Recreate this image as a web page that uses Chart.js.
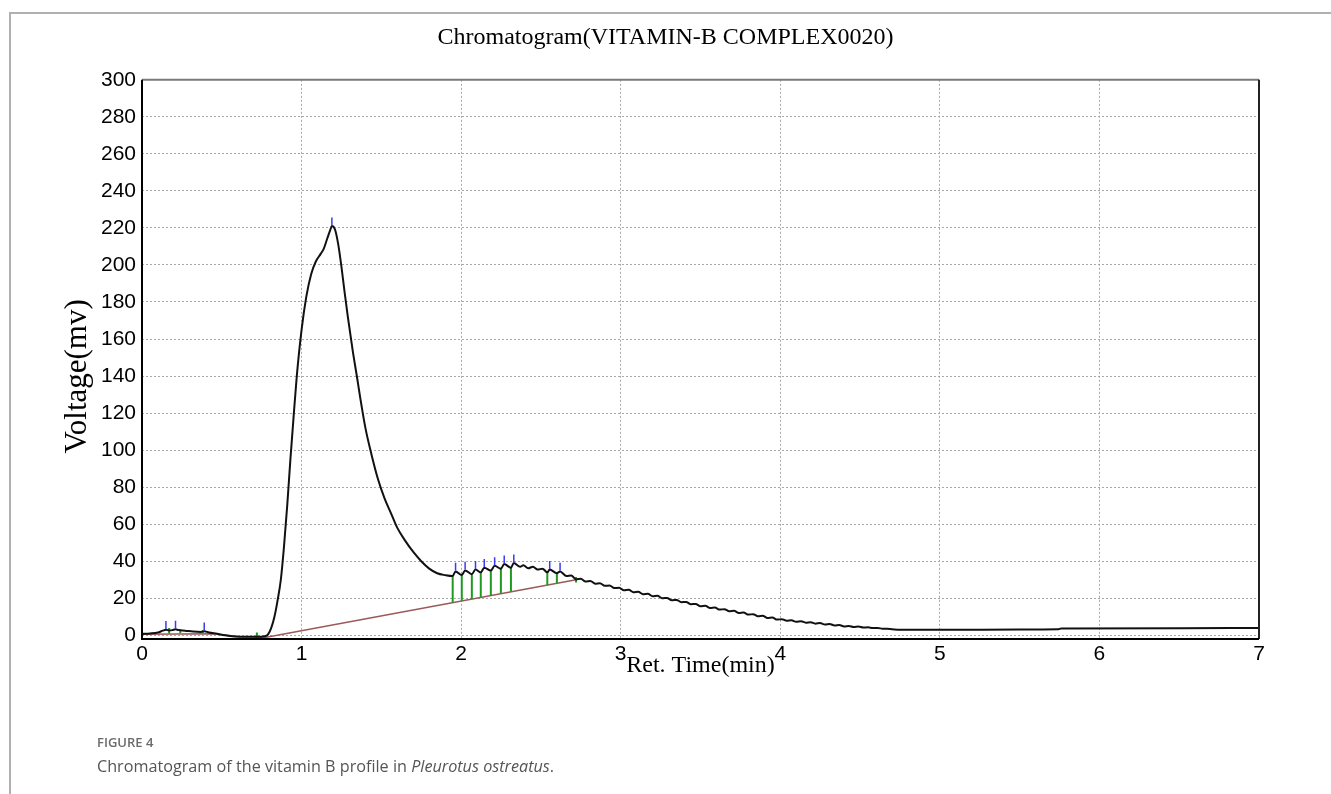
<!DOCTYPE html>
<html>
<head>
<meta charset="utf-8">
<script src="https://cdn.jsdelivr.net/npm/chart.js@4"></script>
<style>
  html,body{margin:0;padding:0;background:#fff;}
  body{width:1331px;height:794px;position:relative;overflow:hidden;}
  #frameTop{position:absolute;left:9px;top:12px;width:1322px;height:0;border-top:2px solid #b0b0b0;}
  #frameLeft{position:absolute;left:9px;top:12px;width:0;height:782px;border-left:2px solid #b0b0b0;}
  #c{position:absolute;left:0;top:0;}
  #figno{position:absolute;left:97px;top:733px;font-family:"Open Sans",sans-serif;font-size:13px;font-weight:600;color:#6b6b6b;}
  #cap{position:absolute;left:97px;top:755px;font-family:"Open Sans",sans-serif;font-size:16.2px;color:#555;}
</style>
</head>
<body>
<div id="frameTop"></div>
<div id="frameLeft"></div>
<canvas id="c" width="1331" height="794"></canvas>
<div id="figno">FIGURE 4</div>
<div id="cap">Chromatogram of the vitamin B profile in <i>Pleurotus ostreatus</i>.</div>
<script>
// ---- data ----
const chartTitle = "Chromatogram(VITAMIN-B COMPLEX0020)";
const xTitle = "Ret. Time(min)";
const yTitle = "Voltage(mv)";
const xTickValues = [0,1,2,3,4,5,6,7];
const yTickValues = [0,20,40,60,80,100,120,140,160,180,200,220,240,260,280,300];

const curveTime = [0,0.05,0.10,0.13,0.15,0.17,0.19,0.21,0.23,0.27,0.32,0.37,0.39,0.42,0.47,0.52,0.58,0.65,0.72,0.77,
  0.79,0.81,0.83,0.85,0.87,0.89,0.91,0.93,0.95,0.97,1.00,1.03,1.06,1.09,1.12,1.14,1.16,1.18,1.19,1.21,
  1.23,1.25,1.27,1.29,1.32,1.35,1.37,1.40,1.44,1.48,1.52,1.56,1.60,1.65,1.70,1.75,1.80,1.85,1.90,
  1.947,1.965,2.004,2.025,2.067,2.09,2.123,2.145,2.186,2.21,2.249,2.27,2.312,2.33,2.37,2.39,2.42,2.45,2.48,2.51,
  2.54,2.555,2.60,2.62,2.66,2.69,2.72,2.75,2.78,2.81,2.84,2.87,2.90,2.93,2.96,2.99,3.02,3.05,3.08,3.11,
  3.14,3.17,3.20,3.23,3.26,3.29,3.32,3.35,3.38,3.41,3.44,3.47,3.50,3.53,3.56,3.59,3.62,3.65,3.68,3.71,
  3.74,3.77,3.80,3.83,3.86,3.89,3.92,3.95,3.98,4.01,4.04,4.07,4.10,4.13,4.16,4.19,4.22,4.25,4.28,4.31,
  4.34,4.37,4.40,4.43,4.46,4.49,4.52,4.55,4.58,4.61,4.64,4.67,4.70,4.75,5.0,5.5,5.74,5.76,6.5,7.0];
const curveMv = [0.8,1.0,1.5,2.5,3.0,2.6,2.8,3.2,2.8,2.5,2.0,1.8,2.2,1.5,0.8,0.0,-0.6,-0.8,-0.8,-0.5,
  0.5,4,10,19,30,48,70,95,118,140,165,183,195,202,206,209,214,219,221,219,
  211,199,185,172,154,138,127,112,97,84,74,66,58,51,45,40,36,33.5,32.5,
  32,34.5,32.5,35,33,35.5,34,36.5,35,37.5,36,38.5,36.5,39,37,37.8,36.2,37,35.5,36,
  34,35.5,33.5,34.5,32,32.3,30.2,30.5,29.0,29.3,27.9,28.1,26.7,26.9,25.5,25.7,24.3,24.6,23.3,23.5,
  22.2,22.4,21.1,21.3,20.0,20.2,18.9,19.1,17.9,18.0,16.8,16.9,15.7,15.9,14.8,15.0,13.9,14.1,13.0,13.2,
  12.1,12.3,11.2,11.4,10.3,10.5,9.4,9.6,8.5,8.7,7.9,8.1,7.3,7.6,6.8,7.1,6.3,6.6,5.8,6.1,
  5.3,5.5,4.8,5.0,4.5,4.7,4.2,4.3,3.9,3.9,3.6,3.5,3.3,3.0,3.0,3.1,3.2,3.7,3.8,4.0];

const baseTime = [0,0.45,0.6,0.78,2.72];
const baseMv   = [0.5,0.8,-0.6,-1,30];

const greenTime   = [0.17,0.24,0.38,0.72,1.947,2.004,2.067,2.123,2.186,2.249,2.312,2.54,2.60,2.72];
const greenTop    = [4,3,2.8,1.5,32,32.5,33,34,35,36,36.5,34,33.5,31.5];
const greenBottom = [1,1.2,1.2,-1.5,17.6,18.6,19.6,20.5,21.5,22.5,23.5,27.1,28.1,28.5];

const apexTime = [0.15,0.21,0.39,1.19,1.965,2.025,2.09,2.145,2.21,2.27,2.33,2.555,2.62];
const apexMv   = [5.5,5.7,4.7,223.5,37,37.5,38,39,40,41,41.5,38,37];

// ---- build datasets ----
const curvePts = curveTime.map((t,i)=>({x:t,y:curveMv[i]}));
const basePts = baseTime.map((t,i)=>({x:t,y:baseMv[i]}));
const greenPts = [];
greenTime.forEach((t,i)=>{ greenPts.push({x:t,y:greenTop[i]},{x:t,y:greenBottom[i]},{x:t,y:null}); });
const apexPts = apexTime.map((t,i)=>({x:t,y:apexMv[i]}));

const serif = "'Liberation Serif','Times New Roman',serif";
const sans = "'Liberation Sans',Arial,sans-serif";

const frame = {
  id:'frame',
  afterDraw(chart){
    const {ctx, chartArea:a} = chart;
    ctx.save();
    ctx.lineWidth = 2;
    ctx.strokeStyle = '#7a7a7a';
    ctx.beginPath(); ctx.moveTo(a.left, a.top); ctx.lineTo(a.right, a.top); ctx.stroke();
    ctx.strokeStyle = '#222';
    ctx.beginPath(); ctx.moveTo(a.right, a.top); ctx.lineTo(a.right, a.bottom); ctx.stroke();
    ctx.strokeStyle = '#000';
    ctx.beginPath(); ctx.moveTo(a.left, a.top); ctx.lineTo(a.left, a.bottom); ctx.lineTo(a.right, a.bottom); ctx.stroke();
    // y-axis title (placed slightly below the plot centre as in the reference)
    ctx.translate(78, (a.top + a.bottom) / 2 + 17);
    ctx.rotate(-Math.PI / 2);
    ctx.font = "31px " + serif;
    ctx.fillStyle = '#000';
    ctx.textAlign = 'center';
    ctx.textBaseline = 'middle';
    ctx.fillText(yTitle, 0, 0);
    ctx.restore();
  }
};

new Chart(document.getElementById('c'), {
  type:'line',
  data:{datasets:[
    {data:apexPts, showLine:false, pointStyle:'line', rotation:90, pointRadius:4, pointBorderColor:'#3b3bf0', pointBorderWidth:1.5, order:0},
    {data:curvePts, borderColor:'#111', borderWidth:2, pointRadius:0, cubicInterpolationMode:'monotone', order:1},
    {data:greenPts, borderColor:'#1f9a1f', borderWidth:2, pointRadius:0, spanGaps:false, order:2},
    {data:basePts, borderColor:'#9a5a5a', borderWidth:1.5, pointRadius:0, order:3}
  ]},
  options:{
    responsive:false, animation:false, devicePixelRatio:1,
    layout:{padding:{left:0,right:0,top:0,bottom:105}},
    plugins:{
      legend:{display:false}, tooltip:{enabled:false},
      title:{display:true, text:chartTitle, color:'#000', font:{family:serif,size:24,weight:'normal'}, padding:{top:23,bottom:28}}
    },
    scales:{
      x:{type:'linear', min:0, max:7,
        afterBuildTicks(s){ s.ticks = xTickValues.map(v=>({value:v})); },
        afterFit(s){ s.height = 50; },
        ticks:{color:'#000', font:{family:sans,size:21}, padding:3, maxRotation:0},
        grid:{color:'#a8a8a8', lineWidth:1, drawTicks:false},
        border:{display:false, dash:[2,2]},
        title:{display:true, text:xTitle, color:'#000', font:{family:serif,size:24}, padding:{top:0,bottom:9}}
      },
      y:{type:'linear', min:-2, max:300,
        afterBuildTicks(s){ s.ticks = yTickValues.map(v=>({value:v})); },
        afterFit(s){ s.width = 142; },
        ticks:{color:'#000', font:{family:sans,size:21}, padding:6},
        grid:{color:'#a8a8a8', lineWidth:1, drawTicks:false},
        border:{display:false, dash:[2,2]},
        title:{display:false}
      },
      yRight:{type:'linear', position:'right', display:true,
        afterFit(s){ s.width = 72; },
        ticks:{display:false}, grid:{display:false, drawOnChartArea:false}, border:{display:false}
      }
    }
  },
  plugins:[frame]
});
</script>
</body>
</html>
